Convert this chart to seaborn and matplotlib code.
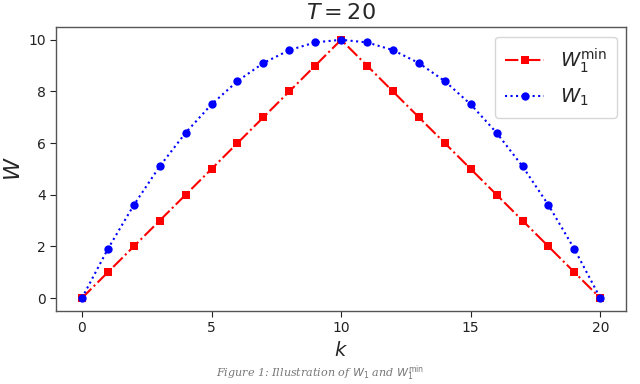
import matplotlib
matplotlib.use("Agg")
import matplotlib.pyplot as plt
import seaborn as sns
import pandas as pd

k = list(range(21))
w_min = [0, 1, 2, 3, 4, 5, 6, 7, 8, 9, 10, 9, 8, 7, 6, 5, 4, 3, 2, 1, 0]
w1 = [0, 1.9, 3.6, 5.1, 6.4, 7.5, 8.4, 9.1, 9.6, 9.9, 10, 9.9, 9.6, 9.1, 8.4, 7.5, 6.4, 5.1, 3.6, 1.9, 0]

sns.set_style("ticks")
plt.rcParams["font.family"] = ["DejaVu Sans"]
plt.rcParams["mathtext.fontset"] = "dejavusans"

fig = plt.figure(figsize=(6.4, 3.84), dpi=100)
ax = fig.add_axes([0.0875, 0.19, 0.891, 0.74])

df = pd.DataFrame({"k": k, "wmin": w_min, "w1": w1})
sns.lineplot(data=df, x="k", y="wmin", ax=ax, color="red", linestyle="-.", marker="s",
             markersize=6, markeredgewidth=0, label=r"$W_1^{\min}$")
sns.lineplot(data=df, x="k", y="w1", ax=ax, color="blue", linestyle=":", marker="o",
             markersize=6, markeredgewidth=0, label=r"$W_1$")

ax.set_xlim(-1, 21)
ax.set_ylim(-0.5, 10.5)
ax.set_xticks([0, 5, 10, 15, 20])
ax.set_yticks([0, 2, 4, 6, 8, 10])
ax.tick_params(labelsize=10, colors="#222222", direction="out", length=4)
for s in ax.spines.values():
    s.set_visible(True)
    s.set_color("#555555")
    s.set_linewidth(1.0)

ax.set_title(r"$T = 20$", fontsize=16, pad=6)
ax.set_xlabel(r"$k$", fontsize=14, labelpad=4)
ax.set_ylabel(r"$W$", fontsize=16, labelpad=3)
ax.legend(loc="upper right", fontsize=14, frameon=True, borderpad=0.5,
          handlelength=2.0, labelspacing=0.6)

fig.text(0.5, 0.002, r"Figure 1: Illustration of $W_1$ and $W_1^{\min}$", ha="center",
         va="bottom", fontsize=8, color="#777777", family="serif", style="italic")

fig.savefig("out.png", dpi=100)
